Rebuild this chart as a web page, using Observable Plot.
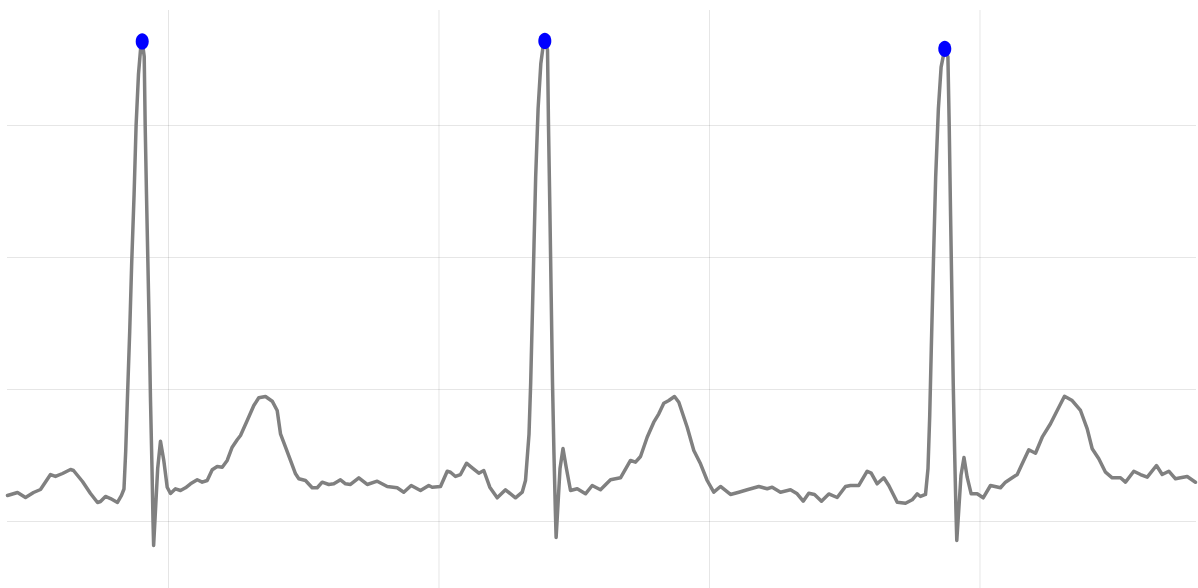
<!DOCTYPE html>
<html>
<head>
<meta charset="utf-8">
<script src="https://cdn.jsdelivr.net/npm/d3@7"></script>
<script src="https://cdn.jsdelivr.net/npm/@observablehq/plot@0.6"></script>
<style>
  html, body { margin: 0; padding: 0; background: #ffffff; }
  #chart { width: 1198px; height: 588px; overflow: hidden; }
</style>
</head>
<body>
<div id="chart"></div>
<script>
// ECG trace: time (s) and amplitude (mV)
const times = [
  0.2024,0.2209,0.2357,0.2505,0.2634,0.2819,0.2911,0.3041,0.3189,0.3244,
  0.3410,0.3558,0.3688,0.3743,0.3835,0.3928,0.4057,0.4131,0.4177,0.4209,
  0.4240,0.4283,0.4320,0.4364,0.4401,0.4445,0.4488,0.4514,0.4551,0.4569,
  0.4593,0.4619,0.4645,0.4667,0.4695,0.4713,0.4725,0.4800,0.4852,0.4913,
  0.4976,0.5037,0.5129,0.5222,0.5314,0.5407,0.5531,0.5623,0.5715,0.5808,
  0.5900,0.5993,0.6085,0.6177,0.6270,0.6331,0.6455,0.6577,0.6669,0.6793,
  0.6917,0.7009,0.7070,0.7163,0.7255,0.7348,0.7409,0.7532,0.7656,0.7749,
  0.7841,0.7963,0.8056,0.8179,0.8272,0.8364,0.8518,0.8673,0.8858,0.9043,
  0.9227,0.9349,0.9486,0.9658,0.9811,0.9874,1.0028,1.0152,1.0213,1.0305,
  1.0397,1.0508,1.0614,1.0736,1.0828,1.0939,1.1076,1.1229,1.1414,1.1538,
  1.1599,1.1664,1.1695,1.1726,1.1756,1.1787,1.1832,1.1882,1.1924,1.1956,
  1.2006,1.2024,1.2050,1.2074,1.2098,1.2124,1.2150,1.2165,1.2237,1.2292,
  1.2351,1.2431,1.2555,1.2708,1.2832,1.2985,1.3170,1.3355,1.3540,1.3632,
  1.3725,1.3848,1.3970,1.4063,1.4155,1.4248,1.4353,1.4433,1.4588,1.4710,
  1.4834,1.4957,1.5079,1.5203,1.5388,1.5542,1.5697,1.5911,1.6067,1.6159,
  1.6312,1.6497,1.6621,1.6732,1.6835,1.6941,1.7070,1.7205,1.7360,1.7514,
  1.7606,1.7760,1.7915,1.7989,1.8100,1.8222,1.8314,1.8470,1.8623,1.8747,
  1.8839,1.8900,1.8993,1.9039,1.9070,1.9100,1.9139,1.9181,1.9231,1.9281,
  1.9325,1.9349,1.9407,1.9431,1.9455,1.9481,1.9505,1.9531,1.9555,1.9571,
  1.9649,1.9704,1.9763,1.9837,1.9948,2.0059,2.0194,2.0379,2.0471,2.0595,
  2.0688,2.0780,2.0902,2.1026,2.1150,2.1303,2.1427,2.1562,2.1704,2.1858,
  2.1982,2.2074,2.2196,2.2320,2.2444,2.2597,2.2689,2.2843,2.2967,2.3091,
  2.3262,2.3368,2.3490,2.3614,2.3706,2.3830,2.3983
];
const volts = [
  0.0985,0.1098,0.0909,0.1098,0.1212,0.1780,0.1705,0.1818,0.1970,0.1932,
  0.1515,0.1061,0.0720,0.0758,0.0947,0.0871,0.0720,0.0985,0.1231,0.2663,
  0.4621,0.7208,0.9811,1.2402,1.5000,1.6947,1.7992,1.8182,1.7614,1.5000,
  1.2402,0.9811,0.7208,0.4621,0.2008,0.0076,-0.0909,0.2008,0.3042,0.2311,
  0.1299,0.1061,0.1239,0.1174,0.1277,0.1428,0.1580,0.1489,0.1553,0.1958,
  0.2083,0.2057,0.2311,0.2814,0.3095,0.3258,0.3826,0.4394,0.4686,0.4735,
  0.4557,0.4205,0.3322,0.2814,0.2311,0.1807,0.1617,0.1553,0.1277,0.1277,
  0.1489,0.1402,0.1428,0.1580,0.1428,0.1402,0.1655,0.1402,0.1527,0.1326,
  0.1277,0.1110,0.1364,0.1174,0.1364,0.1299,0.1326,0.1905,0.1867,0.1705,
  0.1780,0.2208,0.2034,0.1830,0.1932,0.1299,0.0898,0.1201,0.0898,0.1110,
  0.1553,0.3311,0.5265,0.7856,1.0455,1.3053,1.5644,1.7337,1.7992,1.8201,
  1.7856,1.5000,1.1754,0.8504,0.5265,0.2663,0.0455,-0.0606,0.2008,0.2765,
  0.2057,0.1174,0.1239,0.1049,0.1364,0.1201,0.1580,0.1655,0.2311,0.2246,
  0.2462,0.3193,0.3761,0.4080,0.4481,0.4583,0.4735,0.4519,0.3572,0.2689,
  0.2186,0.1553,0.1110,0.1326,0.1023,0.1110,0.1201,0.1326,0.1239,0.1299,
  0.1110,0.1201,0.1049,0.0769,0.1072,0.1023,0.0769,0.1042,0.0909,0.1326,
  0.1364,0.1364,0.1905,0.1830,0.1428,0.1655,0.1364,0.0731,0.0693,0.0822,
  0.1049,0.0947,0.1023,0.2008,0.3958,0.6553,0.9811,1.3053,1.5644,1.7208,
  1.7663,1.7905,1.7598,1.5000,1.1754,0.8504,0.5265,0.2663,0.0455,-0.0720,
  0.1754,0.2424,0.1678,0.1049,0.1049,0.0898,0.1364,0.1277,0.1489,0.1655,
  0.1780,0.2186,0.2716,0.2587,0.3193,0.3701,0.4205,0.4746,0.4583,0.4205,
  0.3511,0.2754,0.2375,0.1867,0.1655,0.1655,0.1489,0.1905,0.1780,0.1678,
  0.2121,0.1780,0.1905,0.1617,0.1655,0.1705,0.1489
];
// detected R peaks
const peakTimes = [0.4514, 1.1956, 1.9349];
const peakVolts = [1.8182, 1.8201, 1.7905];
// grid positions
const xGrid = [0.5, 1.0, 1.5, 2.0];
const yGrid = [0, 0.5, 1.0, 1.5];

const trace = times.map((t, i) => ({t, v: volts[i]}));
const peaks = peakTimes.map((t, i) => ({t, v: peakVolts[i]}));

// slightly tall elliptical marker
const ellipse = {
  draw(ctx, size) {
    const r = Math.sqrt(size / Math.PI);
    const rx = r, ry = r * 1.25, k = 0.5523;
    ctx.moveTo(rx, 0);
    ctx.bezierCurveTo(rx, k * ry, k * rx, ry, 0, ry);
    ctx.bezierCurveTo(-k * rx, ry, -rx, k * ry, -rx, 0);
    ctx.bezierCurveTo(-rx, -k * ry, -k * rx, -ry, 0, -ry);
    ctx.bezierCurveTo(k * rx, -ry, rx, -k * ry, rx, 0);
    ctx.closePath();
  }
};

const chart = Plot.plot({
  width: 1198,
  height: 588,
  marginLeft: 7,
  marginRight: 2,
  marginTop: 10,
  marginBottom: 0,
  style: {background: "#ffffff"},
  x: {domain: [0.2024, 2.4002], axis: null},
  y: {domain: [-0.2538, 1.9356], axis: null},
  marks: [
    Plot.gridX(xGrid, {stroke: "#000", strokeOpacity: 0.1}),
    Plot.gridY(yGrid, {stroke: "#000", strokeOpacity: 0.1}),
    Plot.line(trace, {x: "t", y: "v", stroke: "#808080", strokeWidth: 3.5, strokeLinejoin: "round", strokeLinecap: "round"}),
    Plot.dot(peaks, {x: "t", y: "v", r: 6.5, symbol: ellipse, fill: "#0000ff", stroke: "none"})
  ]
});
document.getElementById("chart").appendChild(chart);
</script>
</body>
</html>
